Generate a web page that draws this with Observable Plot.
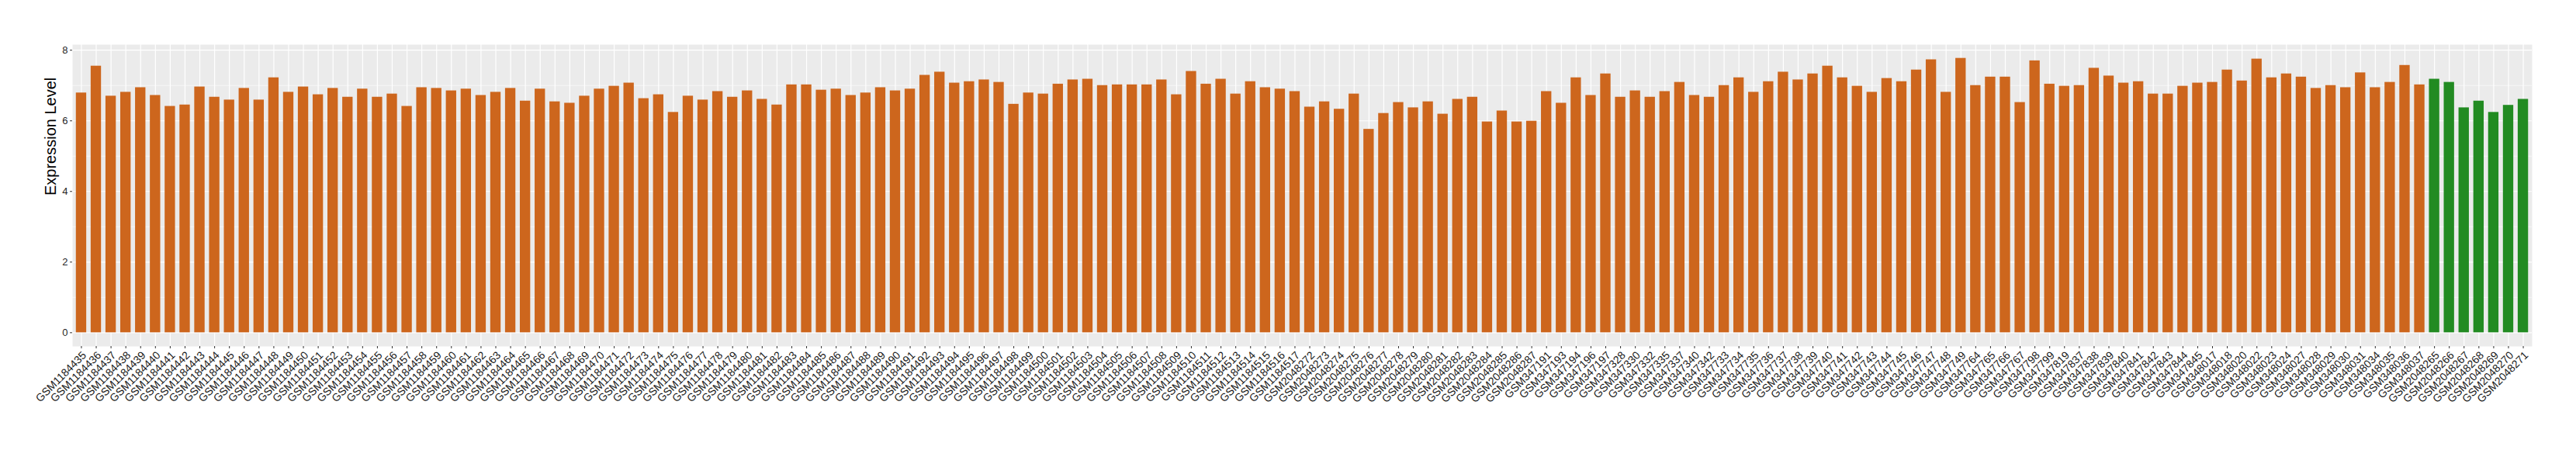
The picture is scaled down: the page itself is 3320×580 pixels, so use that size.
<!DOCTYPE html>
<html>
<head>
<meta charset="utf-8">
<script src="https://cdn.jsdelivr.net/npm/d3@7"></script>
<script src="https://cdn.jsdelivr.net/npm/@observablehq/plot@0.6"></script>
<style>
  html, body { margin: 0; padding: 0; background: white; }
  #chart { width: 3320px; height: 580px; }
</style>
</head>
<body>
<div id="chart"></div>
<script>
// Sample IDs (x categories / tick labels)
const samples = [
  "GSM1184435","GSM1184436","GSM1184437","GSM1184438","GSM1184439","GSM1184440","GSM1184441","GSM1184442","GSM1184443","GSM1184444",
  "GSM1184445","GSM1184446","GSM1184447","GSM1184448","GSM1184449","GSM1184450","GSM1184451","GSM1184452","GSM1184453","GSM1184454",
  "GSM1184455","GSM1184456","GSM1184457","GSM1184458","GSM1184459","GSM1184460","GSM1184461","GSM1184462","GSM1184463","GSM1184464",
  "GSM1184465","GSM1184466","GSM1184467","GSM1184468","GSM1184469","GSM1184470","GSM1184471","GSM1184472","GSM1184473","GSM1184474",
  "GSM1184475","GSM1184476","GSM1184477","GSM1184478","GSM1184479","GSM1184480","GSM1184481","GSM1184482","GSM1184483","GSM1184484",
  "GSM1184485","GSM1184486","GSM1184487","GSM1184488","GSM1184489","GSM1184490","GSM1184491","GSM1184492","GSM1184493","GSM1184494",
  "GSM1184495","GSM1184496","GSM1184497","GSM1184498","GSM1184499","GSM1184500","GSM1184501","GSM1184502","GSM1184503","GSM1184504",
  "GSM1184505","GSM1184506","GSM1184507","GSM1184508","GSM1184509","GSM1184510","GSM1184511","GSM1184512","GSM1184513","GSM1184514",
  "GSM1184515","GSM1184516","GSM1184517",
  "GSM2048272","GSM2048273","GSM2048274","GSM2048275","GSM2048276","GSM2048277","GSM2048278","GSM2048279","GSM2048280","GSM2048281",
  "GSM2048282","GSM2048283","GSM2048284","GSM2048285","GSM2048286","GSM2048287",
  "GSM347191","GSM347193","GSM347194","GSM347196","GSM347197",
  "GSM347328","GSM347330","GSM347332","GSM347335","GSM347337","GSM347340","GSM347342",
  "GSM347733","GSM347734","GSM347735","GSM347736","GSM347737","GSM347738","GSM347739","GSM347740","GSM347741","GSM347742",
  "GSM347743","GSM347744","GSM347745","GSM347746","GSM347747","GSM347748","GSM347749",
  "GSM347764","GSM347765","GSM347766","GSM347767","GSM347798","GSM347799","GSM347819",
  "GSM347837","GSM347838","GSM347839","GSM347840","GSM347841","GSM347842","GSM347843","GSM347844","GSM347845",
  "GSM348017","GSM348018","GSM348020","GSM348022","GSM348023","GSM348024","GSM348027","GSM348028","GSM348029","GSM348030",
  "GSM348031","GSM348034","GSM348035","GSM348036","GSM348037",
  "GSM2048265","GSM2048266","GSM2048267","GSM2048268","GSM2048269","GSM2048270","GSM2048271"
];

// Expression level per sample (same order)
const expression = [
  6.79,7.55,6.70,6.81,6.94,6.72,6.41,6.45,6.96,6.67,
  6.59,6.92,6.59,7.22,6.81,6.96,6.74,6.92,6.67,6.90,
  6.67,6.76,6.41,6.94,6.92,6.85,6.90,6.72,6.81,6.92,
  6.56,6.90,6.54,6.50,6.70,6.90,6.98,7.07,6.63,6.74,
  6.24,6.70,6.59,6.83,6.67,6.85,6.61,6.45,7.02,7.02,
  6.87,6.90,6.72,6.79,6.94,6.85,6.90,7.29,7.38,7.07,
  7.11,7.16,7.09,6.47,6.79,6.76,7.04,7.16,7.18,7.00,
  7.02,7.02,7.02,7.16,6.74,7.40,7.04,7.18,6.76,7.11,
  6.94,6.90,6.83,
  6.39,6.54,6.33,6.76,5.76,6.21,6.52,6.37,6.54,6.19,
  6.61,6.67,5.97,6.28,5.97,5.99,
  6.83,6.50,7.22,6.72,7.33,
  6.67,6.85,6.67,6.83,7.09,6.72,6.67,
  7.00,7.22,6.81,7.11,7.38,7.16,7.33,7.55,7.22,6.98,
  6.81,7.20,7.11,7.44,7.73,6.81,7.77,
  7.00,7.24,7.24,6.52,7.70,7.04,6.98,
  7.00,7.49,7.27,7.07,7.11,6.76,6.76,6.98,7.07,
  7.09,7.44,7.13,7.75,7.22,7.33,7.24,6.92,7.00,6.94,
  7.36,6.94,7.09,7.57,7.02,
  7.18,7.09,6.37,6.56,6.24,6.44,6.61
];

// Samples drawn in the second (green) group
const greenSamples = ["GSM2048265","GSM2048266","GSM2048267","GSM2048268","GSM2048269","GSM2048270","GSM2048271"];
const groupNames = ["A", "B"];
const groupColors = ["#CD661D", "#228B22"];

const majorTicks = [0, 2, 4, 6, 8];
const minorTicks = [1, 3, 5, 7];
const yTitle = "Expression Level";

const data = samples.map((s, i) => ({
  sample: s,
  value: expression[i],
  group: greenSamples.includes(s) ? groupNames[1] : groupNames[0]
}));

const vmax = d3.max(expression);
const yDomain = [-0.05 * vmax, vmax * 1.05];

const font = "'Liberation Sans', Arial, Helvetica, sans-serif";

const chart = Plot.plot({
  width: 3320,
  height: 580,
  marginTop: 57,
  marginBottom: 134,
  marginLeft: 93,
  marginRight: 57,
  style: { fontFamily: font, background: "white", overflow: "visible" },
  x: { type: "band", domain: samples, paddingInner: 0.3, paddingOuter: 0.25, round: false },
  y: { domain: yDomain },
  color: { domain: groupNames, range: groupColors },
  marks: [
    Plot.frame({ fill: "#EBEBEB", stroke: null }),
    Plot.ruleY(minorTicks, { stroke: "white", strokeWidth: 0.6 }),
    Plot.ruleY(majorTicks, { stroke: "white", strokeWidth: 1.2 }),
    Plot.ruleX(samples, { x: d => d, stroke: "white", strokeWidth: 1.2 }),
    Plot.barY(data, { x: "sample", y: "value", fill: "group" }),
    Plot.axisY({ ticks: majorTicks, tickSize: 3, tickPadding: 3, fontSize: 13, label: null, color: "#262626", stroke: "#333" }),
    Plot.axisX({ tickRotate: -45, tickSize: 3, tickPadding: 2, fontSize: 14, label: null, color: "#333", stroke: "#333", text: null }),
    Plot.axisX({ tickRotate: -45, tickSize: 0, tickPadding: 2, fontSize: 14, label: null, color: "#1a1a1a", dx: 4, dy: 7 }),
    Plot.text([yTitle], { text: d => d, frameAnchor: "left", rotate: -90, dx: -28, fontSize: 20, fill: "black" })
  ]
});
document.getElementById("chart").appendChild(chart);
</script>
</body>
</html>
